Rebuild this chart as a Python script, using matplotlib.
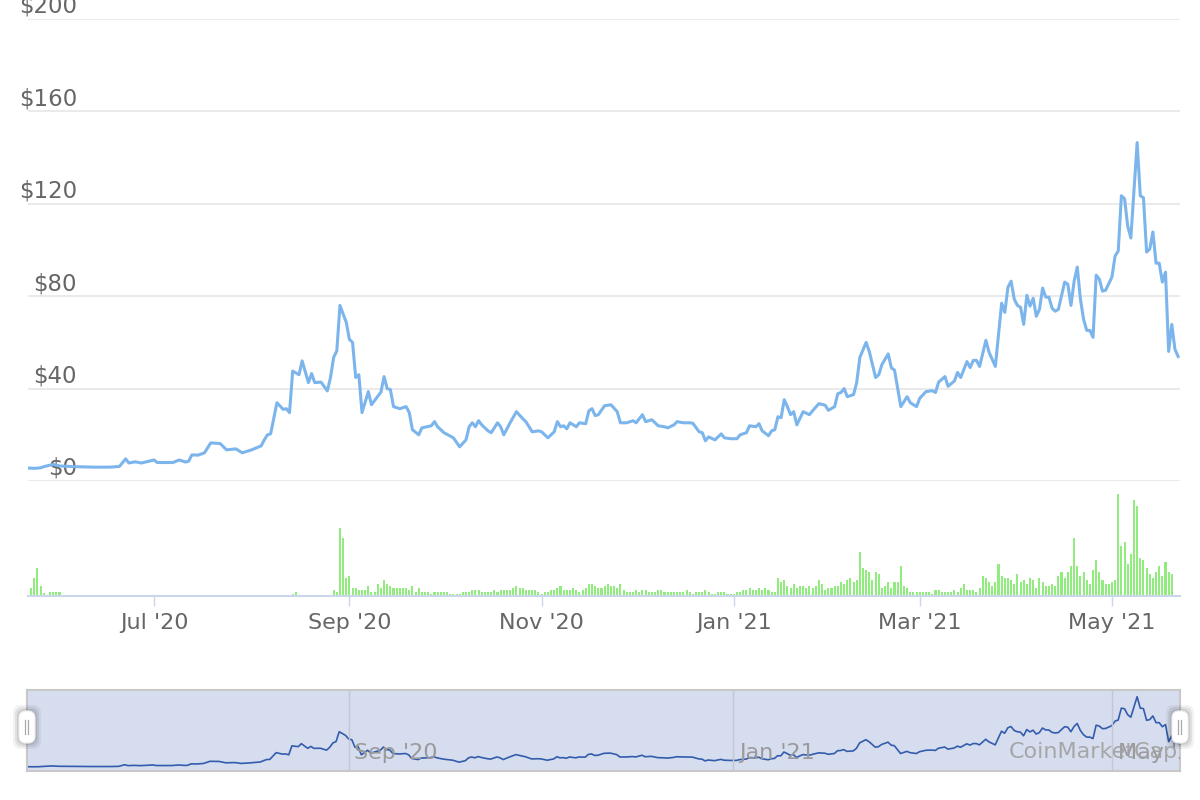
import matplotlib
matplotlib.use("Agg")
import matplotlib.pyplot as plt
import matplotlib.dates as mdates
import matplotlib.transforms as mtrans
from matplotlib.patches import FancyBboxPatch
import pandas as pd

# ---- data ----
start = pd.Timestamp("2020-05-22")

# price: day offset from start, close in USD
price_days = [0, 2, 4, 5, 8, 10, 15, 21, 26, 29, 31, 32, 34, 36, 40, 41, 46, 48, 50, 51,
              52, 54, 56, 58, 61, 63, 66, 68, 71, 74, 75, 76, 77, 79, 81, 82, 83, 84, 86, 87,
              89, 90, 91, 93, 95, 96, 97, 98, 99, 101, 102, 103, 104, 105, 106, 108, 109, 112, 113, 114,
              115, 116, 118, 120, 121, 122, 124, 125, 128, 129, 130, 132, 135, 137, 139, 140, 141, 142, 143, 144,
              146, 147, 149, 150, 151, 153, 155, 157, 158, 160, 162, 163, 165, 167, 168, 169, 170, 171, 172, 174,
              175, 177, 178, 179, 180, 181, 183, 185, 187, 188, 190, 192, 193, 195, 196, 198, 200, 202, 203, 205,
              206, 208, 210, 211, 213, 214, 215, 216, 218, 220, 221, 223, 225, 226, 228, 229, 231, 232, 233, 235,
              236, 237, 238, 239, 240, 241, 242, 243, 244, 246, 248, 249, 251, 253, 254, 256, 257, 258, 259, 260,
              262, 263, 264, 266, 267, 269, 270, 271, 273, 274, 275, 277, 279, 280, 282, 283, 285, 287, 288, 289,
              291, 292, 294, 295, 296, 298, 299, 300, 301, 302, 304, 305, 307, 309, 310, 311, 312, 313, 314, 315,
              316, 317, 318, 319, 320, 321, 322, 323, 324, 325, 326, 327, 329, 330, 331, 332, 333, 334, 335, 336,
              337, 338, 339, 340, 341, 342, 344, 345, 346, 347, 348, 349, 350, 352, 353, 354, 355, 356, 357, 358,
              359, 360, 361, 362, 363, 364, 365]
prices = [5.6, 5.5, 5.7, 6.2, 7.2, 6.5, 6.2, 6.0, 6.0, 6.3, 9.6, 7.8, 8.3, 7.8, 9.1, 8.0, 8.0, 9.1, 8.2, 8.6,
          11.3, 11.2, 12.2, 16.5, 16.2, 13.5, 13.9, 12.2, 13.5, 15.2, 17.8, 20.0, 20.4, 33.9, 31.0, 31.3, 29.6, 47.6, 46.0, 52.0,
          42.6, 46.5, 42.6, 42.8, 39.0, 44.8, 53.5, 56.3, 76.0, 68.7, 61.3, 60.0, 44.8, 46.0, 29.6, 38.7, 33.0, 38.5, 45.2, 40.0,
          39.6, 32.2, 31.3, 32.2, 29.6, 22.2, 20.0, 23.0, 23.9, 25.7, 23.5, 20.9, 18.7, 14.8, 17.8, 23.5, 25.2, 23.5, 26.1, 24.3,
          21.7, 20.9, 25.2, 23.5, 20.0, 25.2, 30.0, 27.0, 25.7, 21.3, 21.7, 21.3, 18.7, 21.3, 25.7, 23.5, 23.9, 22.6, 25.2, 23.5,
          25.2, 24.8, 30.4, 31.3, 28.3, 28.7, 32.6, 33.0, 30.0, 25.2, 25.2, 26.1, 25.2, 28.7, 25.7, 26.5, 23.9, 23.5, 23.0, 24.3,
          25.7, 25.2, 25.2, 25.0, 21.3, 20.9, 17.4, 19.1, 17.8, 20.4, 18.7, 18.3, 18.3, 20.0, 20.9, 23.9, 23.5, 24.8, 21.7, 19.6,
          21.7, 22.2, 27.8, 27.4, 35.2, 32.2, 28.7, 30.0, 24.3, 30.0, 28.7, 30.4, 33.5, 32.8, 30.6, 32.2, 37.8, 38.3, 40.0, 36.5,
          37.4, 42.6, 53.5, 60.0, 56.0, 44.8, 46.0, 50.4, 55.0, 49.0, 48.0, 32.2, 36.5, 33.9, 32.2, 35.8, 38.7, 39.1, 38.3, 42.8,
          45.2, 41.0, 43.3, 47.0, 44.8, 51.7, 49.1, 52.2, 52.2, 49.6, 60.9, 55.7, 49.6, 77.0, 73.0, 83.9, 86.5, 78.7, 76.0, 75.2,
          67.8, 80.4, 75.7, 79.1, 71.3, 74.3, 83.5, 79.6, 79.6, 74.8, 73.5, 74.3, 86.1, 85.2, 76.0, 86.5, 92.6, 78.7, 70.0, 65.2,
          65.2, 62.2, 89.1, 87.4, 82.2, 82.6, 88.3, 97.4, 99.6, 123.5, 122.2, 110.4, 105.2, 146.5, 123.5, 122.6, 99.1, 100.4, 107.8, 94.3,
          94.3, 86.1, 90.4, 56.1, 67.8, 57.0, 53.9]

# volume (M USD, relative): a few early/isolated days, then daily from 2020-08-27
early_vol_days = [1, 2, 3, 4, 5, 7, 8, 9, 10, 84, 85]
early_vol = [7.7, 17.7, 27.7, 10, 2.7, 3.7, 3.7, 3.7, 3.7, 2, 4]
daily_vol_start = "2020-08-27"
daily_vol = [6, 4, 68, 58, 18, 20, 8, 8, 6, 6, 6, 10, 4, 4, 12, 8, 16, 12, 10, 8,
             8, 8, 8, 8, 6, 10, 4, 8, 4, 4, 4, 2, 4, 4, 4, 4, 4, 2, 2, 2,
             2, 4, 4, 4, 6, 6, 6, 4, 4, 4, 4, 6, 4, 6, 6, 6, 6, 8, 10, 8,
             8, 6, 6, 6, 6, 4, 2, 4, 4, 6, 6, 8, 10, 6, 6, 6, 8, 6, 4, 6,
             8,
             12, 12, 10, 8, 8, 10, 12, 10, 10, 8, 12, 6, 4, 4, 4, 6, 4, 6, 6, 4,
             4, 4, 6, 6, 4, 4, 4, 4, 4, 4, 4, 6, 4, 2, 4, 4, 4, 6, 4, 2,
             2, 4, 4, 4, 2, 2, 2, 4, 4, 6, 6, 8, 6, 6, 8, 6, 8, 6, 4, 4,
             18, 14, 16, 10, 8, 12, 8, 10, 10, 8, 10, 8, 10, 16, 12, 6, 8, 8, 10, 10,
             14, 12, 16, 18, 14, 16, 44, 28, 26, 24, 16, 24, 22,
             8, 10, 14, 8, 14, 14, 30, 10, 8, 4, 4, 4, 4, 4, 4, 4, 2, 6, 6, 4,
             4, 4, 4, 6, 4, 8, 12, 6, 6, 6, 4, 8, 20, 18, 14, 10, 14, 32, 20, 18,
             18, 16, 12, 22, 14, 16, 12, 18, 16, 8, 18, 14, 10, 10, 12, 10, 20, 24, 18, 24,
             30, 58, 30, 20, 24, 16, 12, 26, 36, 24, 16, 12, 12, 14, 16, 102, 50, 54, 32, 42,
             96, 90, 38, 36, 28, 22, 18, 24, 30, 20, 34, 24, 22]

nav_marks = ["2020-09-01", "2021-01-01", "2021-05-01"]

# ---- styles ----
LINE = "#7cb5ec"
BAR = "#90ed7d"
GRID = "#e6e6e6"
AXIS = "#ccd6eb"
TEXT = "#666666"
NAV_LINE = "#335cad"
NAV_FILL = "#d6ddee"

price_dates = start + pd.to_timedelta(price_days, unit="D")
vol_dates = list(start + pd.to_timedelta(early_vol_days, unit="D")) + \
    list(pd.date_range(daily_vol_start, periods=len(daily_vol), freq="D"))
vol_values = early_vol + daily_vol

x0 = mdates.date2num(start)
x1 = x0 + 365.6

W, H = 1200, 800
fig = plt.figure(figsize=(12, 8), dpi=100)

def box(left, top, right, bottom):
    return [left / W, 1 - bottom / H, (right - left) / W, (bottom - top) / H]

# price panel
ax = fig.add_axes(box(28, 19, 1180, 481))
ax.plot(price_dates, prices, color=LINE, lw=2.2, solid_joinstyle="round", zorder=3)
ax.set_xlim(x0, x1)
ax.set_ylim(0, 200)
ax.set_yticks(range(0, 201, 40))
ax.grid(axis="y", color=GRID, lw=1.2)
ax.tick_params(left=False, bottom=False, labelleft=False, labelbottom=False)
for s in ax.spines.values():
    s.set_visible(False)
lab_tr = mtrans.offset_copy(ax.get_yaxis_transform(), fig=fig, y=6, units="dots")
for v in range(0, 201, 40):
    ax.text((77 - 28) / 1152, v, f"${v}", transform=lab_tr, ha="right", va="baseline",
            fontsize=16.5, color=TEXT, zorder=1)

# volume panel
axv = fig.add_axes(box(28, 481, 1180, 596))
axv.bar(vol_dates, vol_values, width=0.65, color=BAR, linewidth=0)
axv.set_xlim(x0, x1)
axv.set_ylim(0, 115)
axv.set_yticks([])
for k in ["top", "left", "right"]:
    axv.spines[k].set_visible(False)
axv.spines["bottom"].set_color(AXIS)
axv.spines["bottom"].set_linewidth(1.5)
axv.xaxis.set_major_locator(mdates.MonthLocator(bymonth=[1, 3, 5, 7, 9, 11]))
axv.xaxis.set_major_formatter(mdates.DateFormatter("%b '%y"))
axv.tick_params(axis="x", length=7.5, width=1, color=AXIS, labelsize=16,
                labelcolor=TEXT, pad=5)

# navigator
axn = fig.add_axes(box(27, 690, 1180, 771))
axn.set_facecolor(NAV_FILL)
axn.plot(price_dates, prices, color=NAV_LINE, lw=1.2)
axn.set_xlim(x0, x1)
axn.set_ylim(-3, 160)
axn.set_xticks([])
axn.set_yticks([])
for s in axn.spines.values():
    s.set_color("#c8c8c8")
    s.set_linewidth(1.5)
for d in nav_marks:
    dn = mdates.date2num(pd.Timestamp(d))
    axn.axvline(dn, color="#c2c7d2", lw=1)
    axn.text(dn + 1.8, 0.22, pd.Timestamp(d).strftime("%b '%y"), transform=axn.get_xaxis_transform(),
             ha="left", va="center", fontsize=16, color="#9a9a9a", clip_on=True)

# overlay: watermark and navigator handles
ov = fig.add_axes([0, 0, 1, 1], zorder=10)
ov.set_xlim(0, W)
ov.set_ylim(H, 0)
ov.axis("off")
ov.patch.set_alpha(0)
ov.text(1178, 752, "CoinMarketCap", ha="right", va="center", fontsize=16, color="#a0a0a0", alpha=0.9)
for cx in [27, 1180]:
    for grow, a in [(6, 0.05), (4, 0.07), (2, 0.09)]:
        ov.add_patch(FancyBboxPatch((cx - 8 - grow, 711 - grow), 16 + 2 * grow, 32 + 2 * grow,
                                    boxstyle="round,pad=0,rounding_size=8", fc="#000000",
                                    ec="none", alpha=a))
    ov.add_patch(FancyBboxPatch((cx - 8, 711), 16, 32, boxstyle="round,pad=0,rounding_size=7",
                                fc="white", ec="#eeeeee", lw=0.8))
    for dx in (-1.8, 1.2):
        ov.plot([cx + dx, cx + dx], [720, 734], color="#a8a8a8", lw=0.9)

fig.savefig("out.png", dpi=100)
